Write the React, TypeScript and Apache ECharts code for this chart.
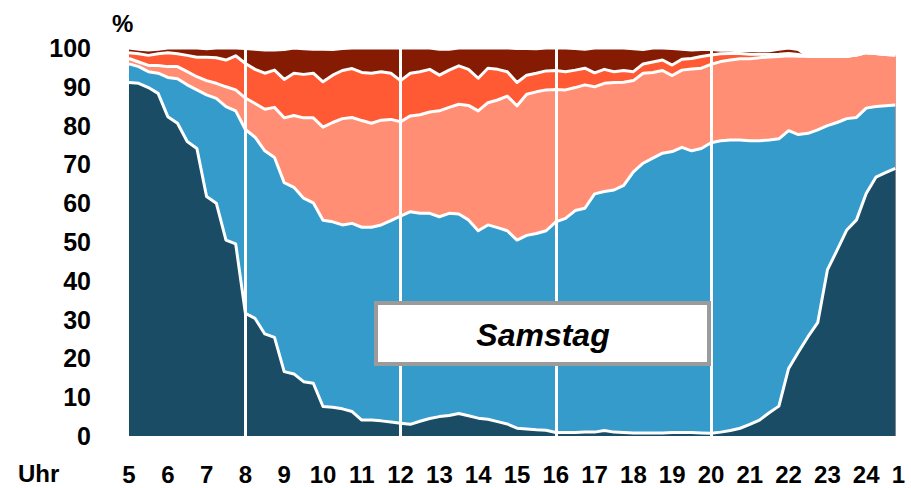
import React, { useEffect, useRef } from "react";
import * as echarts from "echarts";

// quarter-hour samples from 5:00 to 0:45 (cumulative shares, %)
const START_HOUR = 5;
const STEP_HOURS = 0.25;
const HOUR_TICKS = ["5","6","7","8","9","10","11","12","13","14","15","16","17","18","19","20","21","22","23","24","1"];
const DIVIDER_HOURS = [8, 12, 16, 20];

const NAVY_TOP = [
  91.1, 90.9, 89.8, 88.3,
  82.3, 80.6, 75.9, 74.1,
  61.7, 60.0, 50.5, 49.5,
  31.6, 30.3, 26.3, 25.4,
  16.6, 16.0, 14.0, 13.6,
  7.6, 7.4, 7.0, 6.3,
  4.1, 4.1, 3.9, 3.6,
  3.3, 3.0, 3.8, 4.5,
  5.0, 5.3, 5.8, 5.2,
  4.6, 4.3, 3.7, 3.1,
  2.0, 1.8, 1.6, 1.5,
  0.9, 0.9, 0.9, 1.0,
  1.0, 1.4, 1.0, 0.9,
  0.8, 0.8, 0.8, 0.8,
  0.9, 0.9, 0.9, 0.8,
  0.7, 1.0, 1.4, 2.0,
  3.0, 4.1, 6.0, 7.7,
  17.4, 21.6, 25.6, 29.2,
  42.8, 47.9, 53.1, 55.7,
  62.5, 66.7, 67.9, 69.0,
];

const BLUE_TOP = [
  95.9, 95.2, 93.9, 93.5,
  92.4, 92.1, 90.5, 89.2,
  87.9, 87.0, 84.9, 83.8,
  79.0, 77.0, 73.5, 71.8,
  65.3, 64.1, 61.3, 60.1,
  55.6, 55.2, 54.4, 54.8,
  53.8, 53.8, 54.4, 55.5,
  56.7, 57.8, 57.4, 57.4,
  56.5, 57.4, 57.2, 55.7,
  52.9, 54.4, 53.7, 52.9,
  50.5, 51.7, 52.2, 52.9,
  55.2, 56.1, 58.1, 58.7,
  62.4, 63.0, 63.4, 64.6,
  68.1, 70.3, 71.6, 72.9,
  73.3, 74.4, 73.5, 74.1,
  75.6, 76.1, 76.3, 76.3,
  76.1, 76.1, 76.3, 76.6,
  78.7, 77.7, 78.0, 78.9,
  80.0, 80.8, 81.8, 82.1,
  84.5, 84.9, 85.1, 85.3,
];

const SALMON_TOP = [
  97.3, 96.4, 95.5, 95.5,
  95.2, 95.2, 93.9, 92.6,
  91.6, 90.9, 90.0, 89.2,
  87.1, 85.7, 84.2, 84.7,
  82.0, 82.6, 82.0, 82.0,
  79.6, 80.8, 81.8, 82.1,
  81.3, 80.6, 81.4, 81.6,
  81.0, 82.5, 82.8, 83.5,
  83.8, 84.7, 85.5, 85.2,
  83.8, 85.9, 86.6, 87.6,
  85.1, 88.1, 88.7, 89.2,
  89.3, 89.2, 89.8, 90.5,
  90.0, 90.9, 91.1, 91.2,
  91.6, 93.5, 93.7, 94.2,
  92.9, 94.3, 94.6, 94.8,
  95.8, 96.5, 96.9, 97.2,
  97.2, 97.5, 97.7, 97.8,
  98.0, 97.9, 97.9, 97.8,
  97.8, 97.8, 97.9, 98.2,
  98.8, 98.6, 98.3, 98.2,
];

const ORANGE_TOP = [
  98.8, 98.5, 98.1, 98.5,
  98.8, 98.5, 98.1, 97.6,
  97.6, 97.5, 96.9, 98.0,
  96.0, 94.5, 93.5, 94.3,
  91.9, 93.5, 93.2, 93.5,
  91.3, 93.0, 94.2, 94.7,
  93.7, 93.5, 93.9, 93.5,
  91.6, 93.5, 93.9, 94.5,
  93.0, 94.3, 95.4, 94.5,
  92.2, 94.8, 94.5, 93.9,
  91.1, 93.0, 93.5, 94.1,
  94.2, 93.9, 94.3, 94.8,
  93.6, 94.5, 93.9, 94.2,
  93.9, 95.9, 96.4, 96.9,
  95.6, 97.1, 97.3, 97.8,
  98.2, 98.5, 98.6, 98.6,
  98.4, 98.4, 98.3, 98.4,
  98.6, 98.3, 97.9, 97.8,
  97.8, 97.8, 97.9, 98.2,
  98.8, 98.6, 98.3, 98.2,
];

const DARKRED_TOP = [
  100, 99.7, 99.5, 99.7,
  100, 100, 100, 100,
  99.8, 100, 100, 100,
  99.9, 99.7, 99.5, 99.5,
  99.6, 100, 99.8, 99.7,
  99.7, 99.6, 99.9, 100,
  100, 100, 100, 100,
  100, 100, 100, 100,
  99.7, 99.7, 100, 100,
  100, 100, 100, 100,
  99.9, 99.9, 99.8, 100,
  100, 100, 99.9, 99.7,
  100, 100, 100, 100,
  99.8, 99.6, 100, 100,
  99.9, 99.7, 99.5, 99.6,
  99.6, 99.4, 99.4, 99.3,
  99.4, 99.3, 99.3, 99.7,
  100, 99.6, 97.9, 97.8,
  97.8, 97.8, 97.9, 98.2,
  98.8, 98.6, 98.3, 98.2,
];

const LAYERS = [
  { name: "Anteil 5", values: DARKRED_TOP, color: "#841b02" },
  { name: "Anteil 4", values: ORANGE_TOP, color: "#ff5a34" },
  { name: "Anteil 3", values: SALMON_TOP, color: "#ff8e74" },
  { name: "Anteil 2", values: BLUE_TOP, color: "#349bcb" },
  { name: "Anteil 1", values: NAVY_TOP, color: "#1b4c65" },
];

const FONT = '"Liberation Sans", Arial, sans-serif';

export default function App() {
  const ref = useRef<HTMLDivElement>(null);

  useEffect(() => {
    document.body.style.margin = "0";
    const el = ref.current;
    if (!el) return;
    const chart = echarts.init(el, null, { renderer: "svg" });

    const series = LAYERS.map((layer, li) => ({
      name: layer.name,
      type: "line",
      data: layer.values.map((v, i) => [START_HOUR + i * STEP_HOURS, v]),
      symbol: "none",
      showSymbol: false,
      smooth: false,
      lineStyle: { color: "#ffffff", width: 3, join: "round" },
      areaStyle: { color: layer.color, opacity: 1 },
      itemStyle: { color: layer.color },
      z: 2,
      markLine:
        li === LAYERS.length - 1
          ? {
              silent: true,
              symbol: ["none", "none"],
              label: { show: false },
              lineStyle: { color: "#ffffff", width: 3, type: "solid" },
              data: DIVIDER_HOURS.map((h) => ({ xAxis: h })),
            }
          : undefined,
    }));

    chart.setOption({
      animation: false,
      grid: { left: 129, top: 48, width: 776, height: 388 },
      xAxis: {
        type: "value",
        min: 5,
        max: 25,
        interval: 1,
        axisLine: { show: false },
        axisTick: { show: false },
        splitLine: { show: false },
        axisLabel: {
          margin: 26,
          fontSize: 24,
          fontWeight: "bold",
          color: "#000",
          fontFamily: FONT,
          showMinLabel: true,
          showMaxLabel: true,
          alignMaxLabel: "right",
          formatter: (v: number) => HOUR_TICKS[Math.round(v) - START_HOUR] ?? "",
        },
      },
      yAxis: {
        type: "value",
        min: 0,
        max: 100,
        interval: 10,
        axisLine: { show: false },
        axisTick: { show: false },
        splitLine: { show: false },
        axisLabel: {
          margin: 38,
          fontSize: 25,
          fontWeight: "bold",
          color: "#000",
          fontFamily: FONT,
        },
      },
      series,
      graphic: [
        {
          type: "text",
          left: 112,
          top: 11,
          style: { text: "%", font: `bold 24px ${FONT}`, fill: "#000" },
        },
        {
          type: "text",
          left: 18,
          top: 461,
          style: { text: "Uhr", font: `bold 24px ${FONT}`, fill: "#000" },
        },
        {
          type: "rect",
          shape: { x: 376, y: 303, width: 333, height: 61 },
          style: { fill: "#ffffff", stroke: "#9b9b9b", lineWidth: 4 },
          z: 100,
        },
        {
          type: "text",
          x: 543,
          y: 335,
          style: {
            text: "Samstag",
            font: `italic bold 32px ${FONT}`,
            fill: "#000",
            align: "center",
            verticalAlign: "middle",
          },
          z: 101,
        },
      ],
    });

    return () => chart.dispose();
  }, []);

  return <div ref={ref} style={{ width: 911, height: 488 }} />;
}
